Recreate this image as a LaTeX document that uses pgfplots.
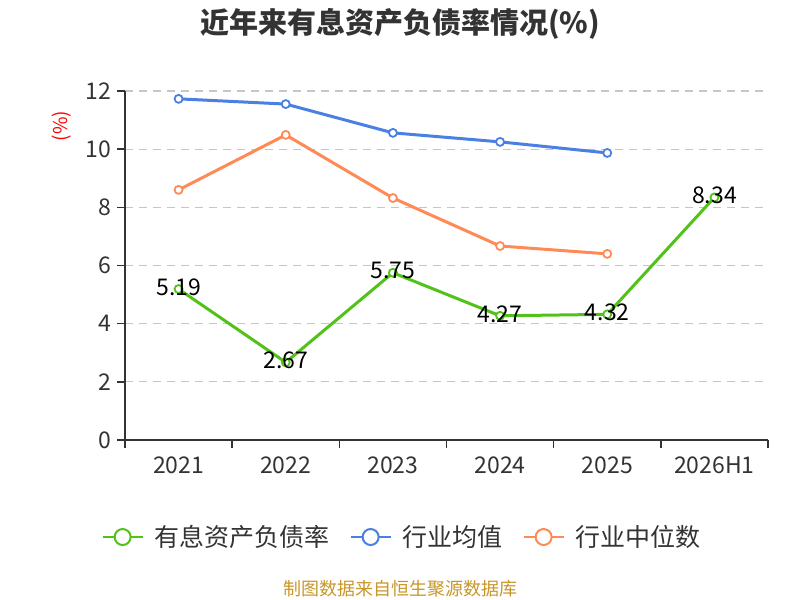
\documentclass[border=0pt]{standalone}
\usepackage{pgfplots}
\pgfplotsset{compat=1.18}
\usepackage{fontspec}
\setmainfont{Noto Sans CJK SC}
\definecolor{cgreen}{RGB}{82,194,26}
\definecolor{cblue}{RGB}{74,128,226}
\definecolor{corange}{RGB}{255,138,85}
\definecolor{ctext}{RGB}{51,51,51}
\definecolor{csrc}{RGB}{200,150,40}
\begin{document}
\begin{tikzpicture}[x=1bp,y=1bp]
\path[use as bounding box] (0,0) rectangle (800,600);
\node[font=\fontsize{29bp}{33bp}\selectfont\bfseries, text=ctext] at (400,576) {近年来有息资产负债率情况(\%)};
\node[font=\fontsize{19bp}{22bp}\selectfont, text=red, rotate=90] at (62,474) {(\%)};
\node[font=\fontsize{18bp}{21bp}\selectfont, text=csrc] at (400,11) {制图数据来自恒生聚源数据库};
\begin{axis}[
  at={(125bp,160bp)}, anchor=south west,
  scale only axis, width=643bp, height=349bp,
  xmin=-0.5, xmax=5.5, ymin=0, ymax=12,
  xtick={0,1,2,3,4,5},
  xticklabels={2021,2022,2023,2024,2025,2026H1},
  minor xtick={-0.5,0.5,1.5,2.5,3.5,4.5,5.5},
  ytick={0,2,4,6,8,10,12},
  axis x line*=bottom, axis y line*=left,
  axis line style={ctext, line width=1.5bp, -},
  tick align=outside,
  major tick length=0bp,
  minor tick length=8bp,
  every minor tick/.style={ctext, line width=1.5bp},
  every major tick/.style={ctext, line width=1.5bp},
  extra y ticks={0,2,4,6,8,10,12}, extra y tick labels={},
  extra y tick style={major tick length=8bp, grid=none},
  ymajorgrids, grid style={dash pattern=on 8bp off 6bp, gray!45, line width=1.3bp},
  tick label style={font=\fontsize{23bp}{27bp}\selectfont, text=ctext},
  /pgf/number format/assume math mode=true,
  xticklabel style={yshift=-13bp},
  yticklabel style={xshift=-10bp},
  clip=false,
  legend columns=3,
  legend style={at={(0.431,-0.278)}, anchor=center, draw=none, fill=none,
    font=\fontsize{25bp}{29bp}\selectfont, text=ctext,
    /tikz/every even column/.append style={column sep=18bp},
    /tikz/every odd column/.append style={column sep=9bp}},
  legend image code/.code={
    \draw[line width=2bp] (0bp,0bp) -- (40bp,0bp);
    \draw[line width=2bp, fill=white] (20bp,0bp) circle (8bp);
  },
]
\addplot[cgreen, line width=3bp, mark=*, mark size=4bp, mark options={fill=white, line width=1.8bp},
  nodes near coords, point meta=explicit symbolic,
  every node near coord/.style={anchor=center, yshift=2bp, font=\fontsize{23bp}{27bp}\selectfont, text=black}]
  coordinates {(0,5.19)[5.19] (1,2.67)[2.67] (2,5.75)[5.75] (3,4.27)[4.27] (4,4.32)[4.32] (5,8.34)[8.34]};
\addlegendentry{有息资产负债率}
\addplot[cblue, line width=3bp, mark=*, mark size=4bp, mark options={fill=white, line width=1.8bp}]
  coordinates {(0,11.73) (1,11.55) (2,10.56) (3,10.25) (4,9.87)};
\addlegendentry{行业均值}
\addplot[corange, line width=3bp, mark=*, mark size=4bp, mark options={fill=white, line width=1.8bp}]
  coordinates {(0,8.60) (1,10.49) (2,8.32) (3,6.67) (4,6.40)};
\addlegendentry{行业中位数}
\end{axis}
\end{tikzpicture}
\end{document}
